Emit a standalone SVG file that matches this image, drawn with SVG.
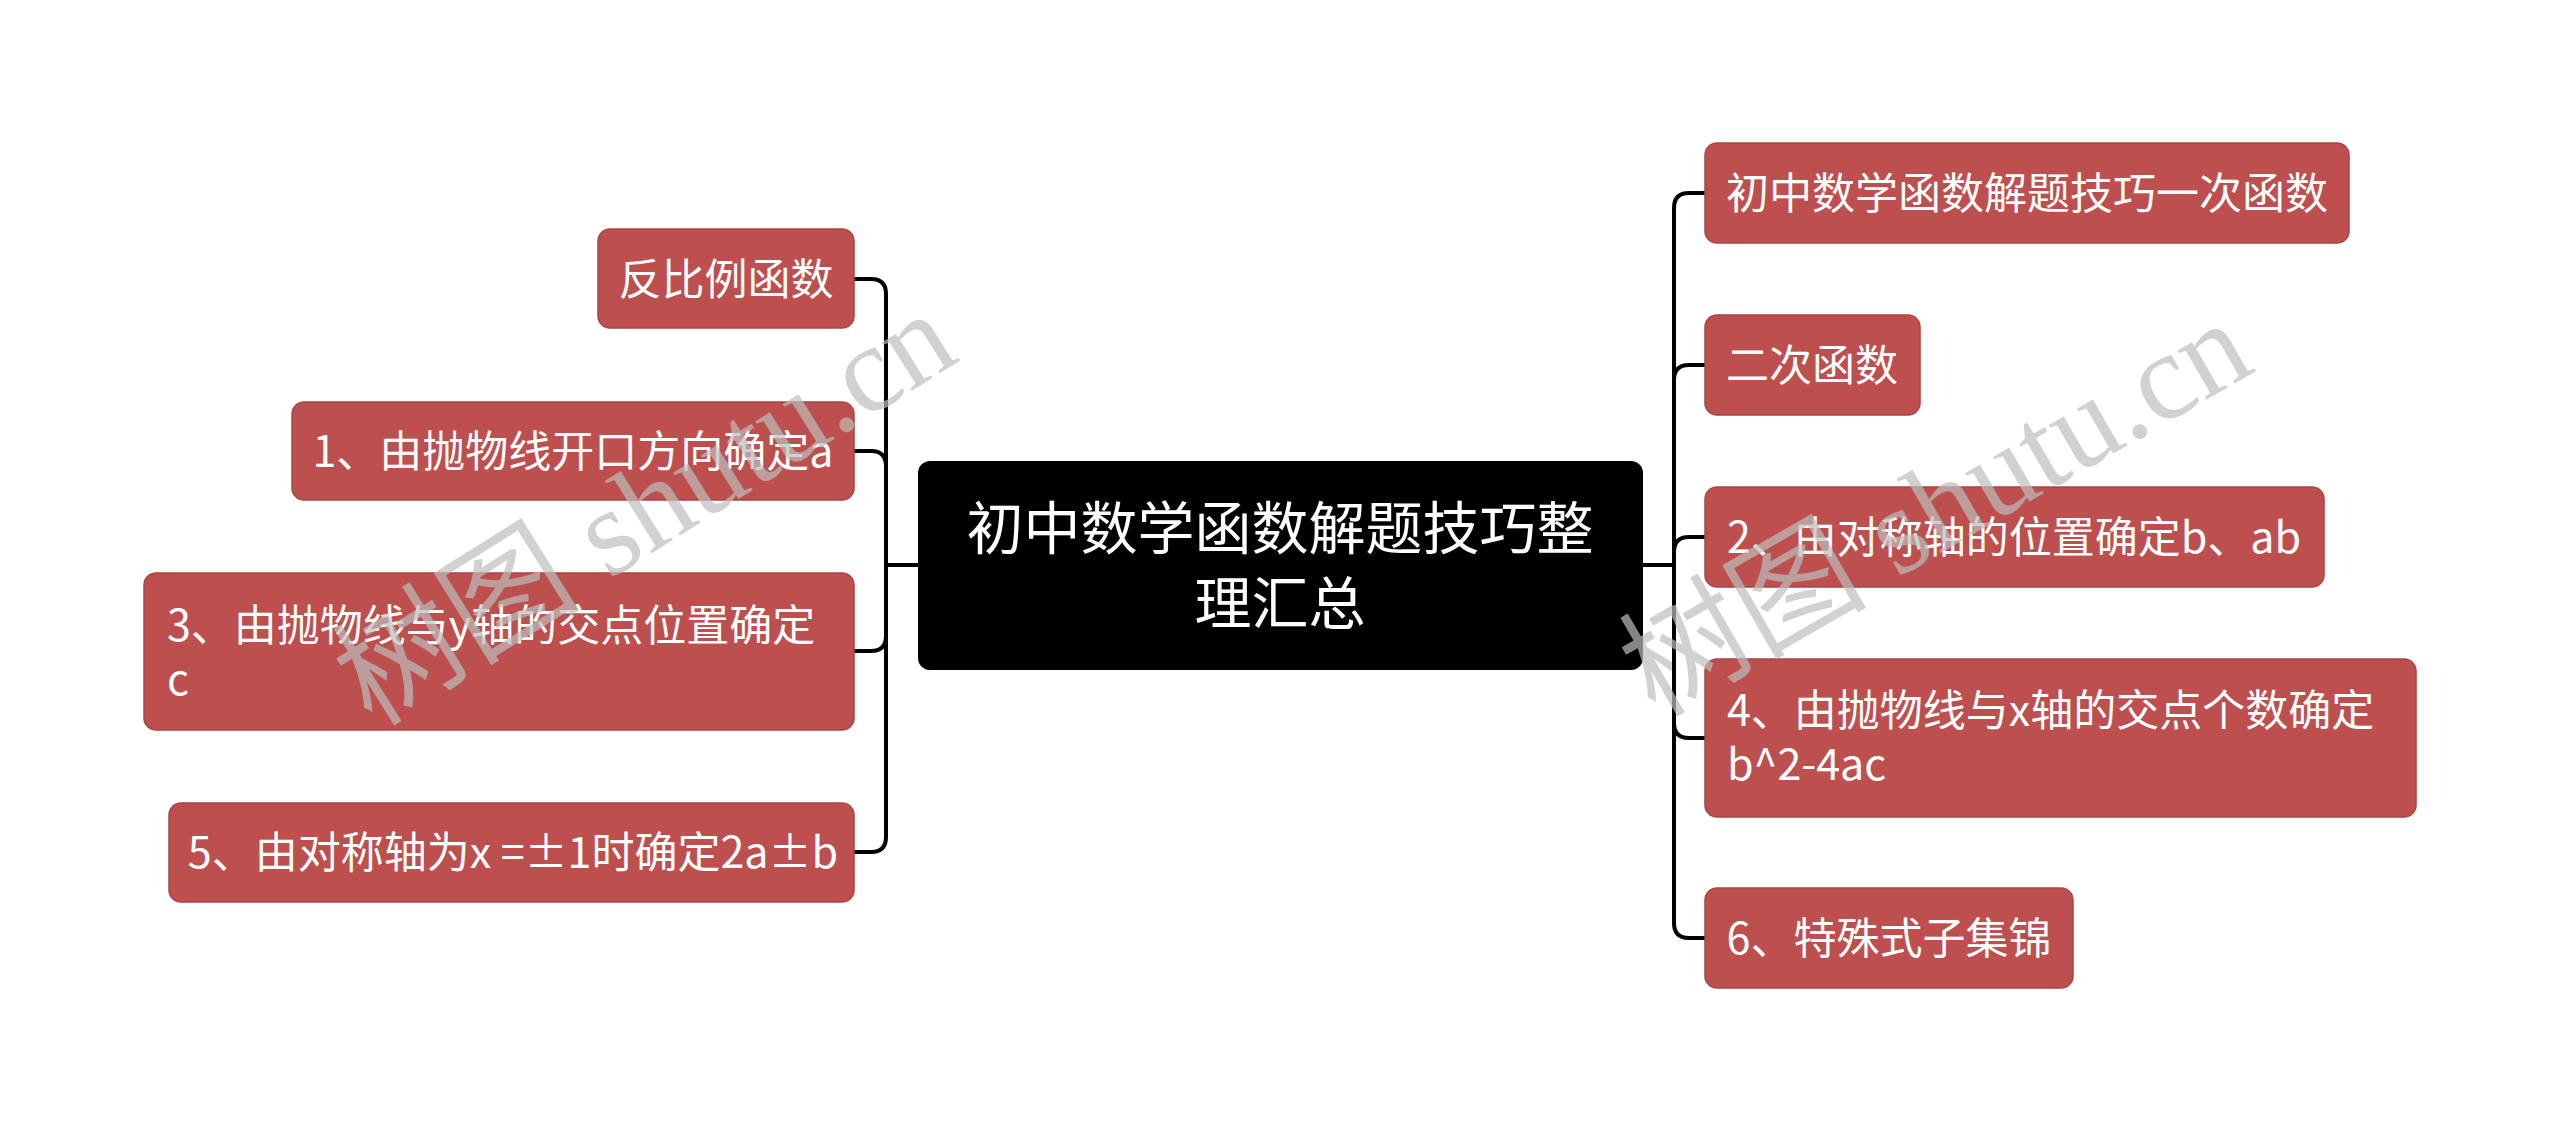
<svg xmlns="http://www.w3.org/2000/svg" width="2560" height="1132" viewBox="0 0 2560 1132">
<style>
.bg{fill:#ffffff}
.node rect{fill:#BD4F4F;stroke:#A84545;stroke-width:1.5}
.node text{fill:#ffffff;font-family:"Noto Sans CJK SC","Noto Sans",sans-serif;font-size:43px}
.root rect{fill:#000000}
.root text{fill:#ffffff;font-family:"Noto Sans CJK SC","Noto Sans",sans-serif;font-size:57px;text-anchor:middle}
.mid{text-anchor:middle}
.conn path{fill:none;stroke:#000000;stroke-width:4;stroke-linecap:round;stroke-linejoin:round}
.wm text{fill:#bdbdbd;fill-opacity:0.7;font-family:"Liberation Serif","Noto Sans CJK SC",serif;font-size:124px}
</style>
<rect class="bg" x="0" y="0" width="2560" height="1132"/>
<g id="connectors" class="conn">
  <path d="M918 565 H886"/>
  <path d="M886 565 V294 Q886 279 871 279 H854"/>
  <path d="M886 565 V466 Q886 451 871 451 H854"/>
  <path d="M886 565 V636 Q886 651 871 651 H854"/>
  <path d="M886 565 V837 Q886 852 871 852 H854"/>
  <path d="M1643 565 H1674"/>
  <path d="M1674 565 V208 Q1674 193 1689 193 H1705"/>
  <path d="M1674 565 V380 Q1674 365 1689 365 H1705"/>
  <path d="M1674 565 V552 Q1674 537 1689 537 H1705"/>
  <path d="M1674 565 V723 Q1674 738 1689 738 H1705"/>
  <path d="M1674 565 V923 Q1674 938 1689 938 H1705"/>
</g>
<g id="root" class="root">
  <rect x="918" y="461" width="725" height="209" rx="12"/>
  <text x="1280" y="549">初中数学函数解题技巧整</text>
  <text x="1280" y="624">理汇总</text>
</g>
<g id="L1" class="node">
  <rect x="598" y="229" width="256" height="99" rx="12"/>
  <text class="mid" x="726" y="295">反比例函数</text>
</g>
<g id="L2" class="node">
  <rect x="292" y="402" width="562" height="98" rx="12"/>
  <text class="mid" x="573" y="467">1、由抛物线开口方向确定a</text>
</g>
<g id="L3" class="node">
  <rect x="144" y="573" width="710" height="157" rx="12"/>
  <text x="167" y="641">3、由抛物线与y轴的交点位置确定</text>
  <text x="167" y="695">c</text>
</g>
<g id="L4" class="node">
  <rect x="169" y="803" width="685" height="99" rx="12"/>
  <text class="mid" x="513" y="868">5、由对称轴为x =±1时确定2a±b</text>
</g>
<g id="R1" class="node">
  <rect x="1705" y="143" width="644" height="100" rx="12"/>
  <text class="mid" x="2027" y="209">初中数学函数解题技巧一次函数</text>
</g>
<g id="R2" class="node">
  <rect x="1705" y="315" width="215" height="100" rx="12"/>
  <text class="mid" x="1812" y="381">二次函数</text>
</g>
<g id="R3" class="node">
  <rect x="1705" y="487" width="619" height="100" rx="12"/>
  <text class="mid" x="2014" y="553">2、由对称轴的位置确定b、ab</text>
</g>
<g id="R4" class="node">
  <rect x="1705" y="659" width="711" height="158" rx="12"/>
  <text x="1727" y="726">4、由抛物线与x轴的交点个数确定</text>
  <text x="1727" y="780">b^2-4ac</text>
</g>
<g id="R5" class="node">
  <rect x="1705" y="888" width="368" height="100" rx="12"/>
  <text class="mid" x="1889" y="954">6、特殊式子集锦</text>
</g>
<g id="watermark" class="wm">
  <text transform="translate(372 728) rotate(-32)">树图 shutu.cn</text>
  <text transform="translate(1655 718) rotate(-30)">树图 shutu.cn</text>
</g>
</svg>
